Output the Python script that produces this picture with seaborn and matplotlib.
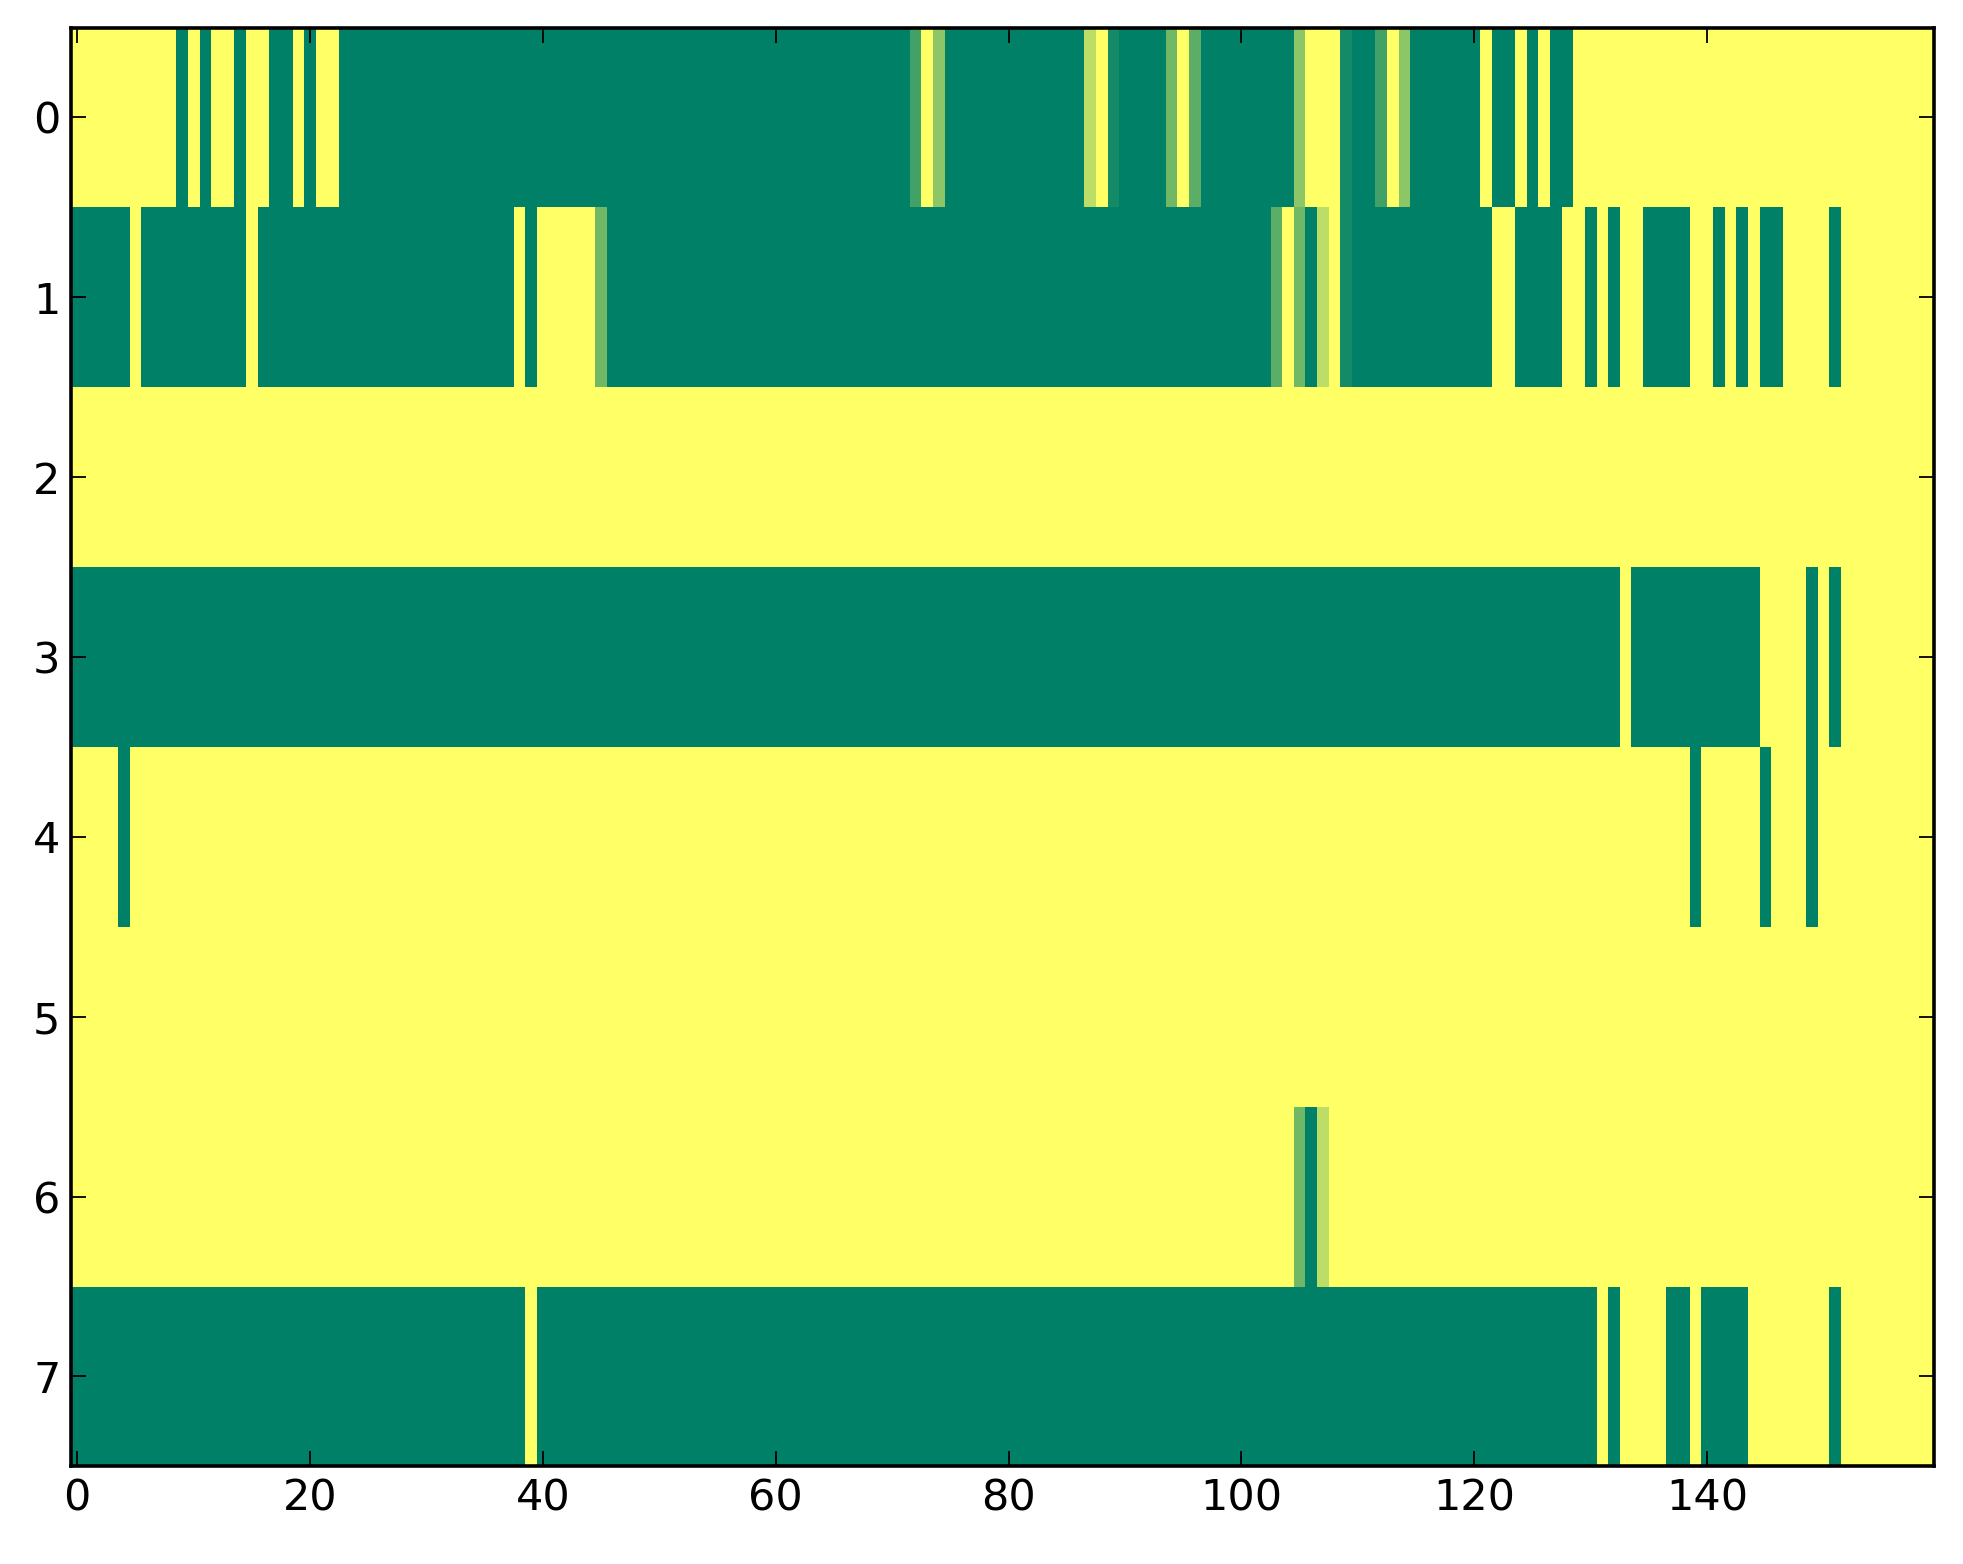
import numpy as np
import pandas as pd
import matplotlib
matplotlib.use("Agg")
import matplotlib.pyplot as plt
import seaborn as sns

Y = 1.0
G = 0.0

# each row given as runs of (value, number of columns)
row_0 = [(Y, 9), (G, 1), (Y, 1), (G, 1), (Y, 2), (G, 1), (Y, 2), (G, 2), (Y, 1), (G, 1),
         (Y, 2), (G, 49), (0.26, 1), (Y, 1), (0.55, 1), (G, 12), (0.74, 1), (Y, 1), (0.08, 1),
         (G, 4), (0.44, 1), (Y, 1), (0.36, 1), (G, 8), (0.55, 1), (Y, 3), (0.08, 1), (G, 2),
         (0.26, 1), (Y, 1), (0.55, 1), (G, 6), (Y, 1), (G, 2), (Y, 1), (G, 1), (Y, 1), (G, 2),
         (Y, 31)]
row_1 = [(G, 5), (Y, 1), (G, 9), (Y, 1), (G, 22), (Y, 1), (G, 1), (Y, 5), (0.44, 1), (G, 57),
         (0.36, 1), (Y, 1), (0.44, 1), (G, 1), (0.74, 1), (Y, 1), (0.08, 1), (G, 12), (Y, 2),
         (G, 4), (Y, 2), (G, 1), (Y, 1), (G, 1), (Y, 2), (G, 4), (Y, 2), (G, 1), (Y, 1), (G, 1),
         (Y, 1), (G, 2), (Y, 4), (G, 1), (Y, 8)]
row_2 = [(Y, 160)]
row_3 = [(G, 133), (Y, 1), (G, 11), (Y, 4), (G, 1), (Y, 1), (G, 1), (Y, 8)]
row_4 = [(Y, 4), (G, 1), (Y, 134), (G, 1), (Y, 5), (G, 1), (Y, 3), (G, 1), (Y, 10)]
row_5 = [(Y, 160)]
row_6 = [(Y, 105), (0.44, 1), (G, 1), (0.74, 1), (Y, 52)]
row_7 = [(G, 39), (Y, 1), (G, 91), (Y, 1), (G, 1), (Y, 4), (G, 2), (Y, 1), (G, 4), (Y, 7),
         (G, 1), (Y, 8)]

rows = [row_0, row_1, row_2, row_3, row_4, row_5, row_6, row_7]
row_labels = [str(i) for i in range(8)]
x_tick_values = [0, 20, 40, 60, 80, 100, 120, 140]


def expand(runs):
    return np.concatenate([np.full(n, v, dtype=float) for v, n in runs])


data = pd.DataFrame(np.vstack([expand(r) for r in rows]), index=row_labels)

fig = plt.figure(figsize=(19.63, 15.64), dpi=100, facecolor="white")
ax = fig.add_axes([0.0364, 0.0624, 0.9489, 0.92])
sns.heatmap(data, cmap="summer", vmin=0, vmax=1, cbar=False, ax=ax,
            xticklabels=False, yticklabels=False)

ax.set_xlim(0, data.shape[1])
ax.set_ylim(data.shape[0], 0)
ax.set_xticks(np.array(x_tick_values) + 0.5)
ax.set_xticklabels([str(v) for v in x_tick_values], rotation=0, fontsize=31)
ax.set_yticks(np.arange(len(row_labels)) + 0.5)
ax.set_yticklabels(row_labels, rotation=0, fontsize=31)

for s in ax.spines.values():
    s.set_visible(True)
    s.set_linewidth(2.6)
    s.set_color("black")

ax.tick_params(axis="both", which="major", direction="in", length=11, width=1.3,
               top=True, right=True, bottom=True, left=True, pad=8, colors="black")
ax.set_xlabel("")
ax.set_ylabel("")

fig.savefig("out.png", dpi=100, facecolor="white")
